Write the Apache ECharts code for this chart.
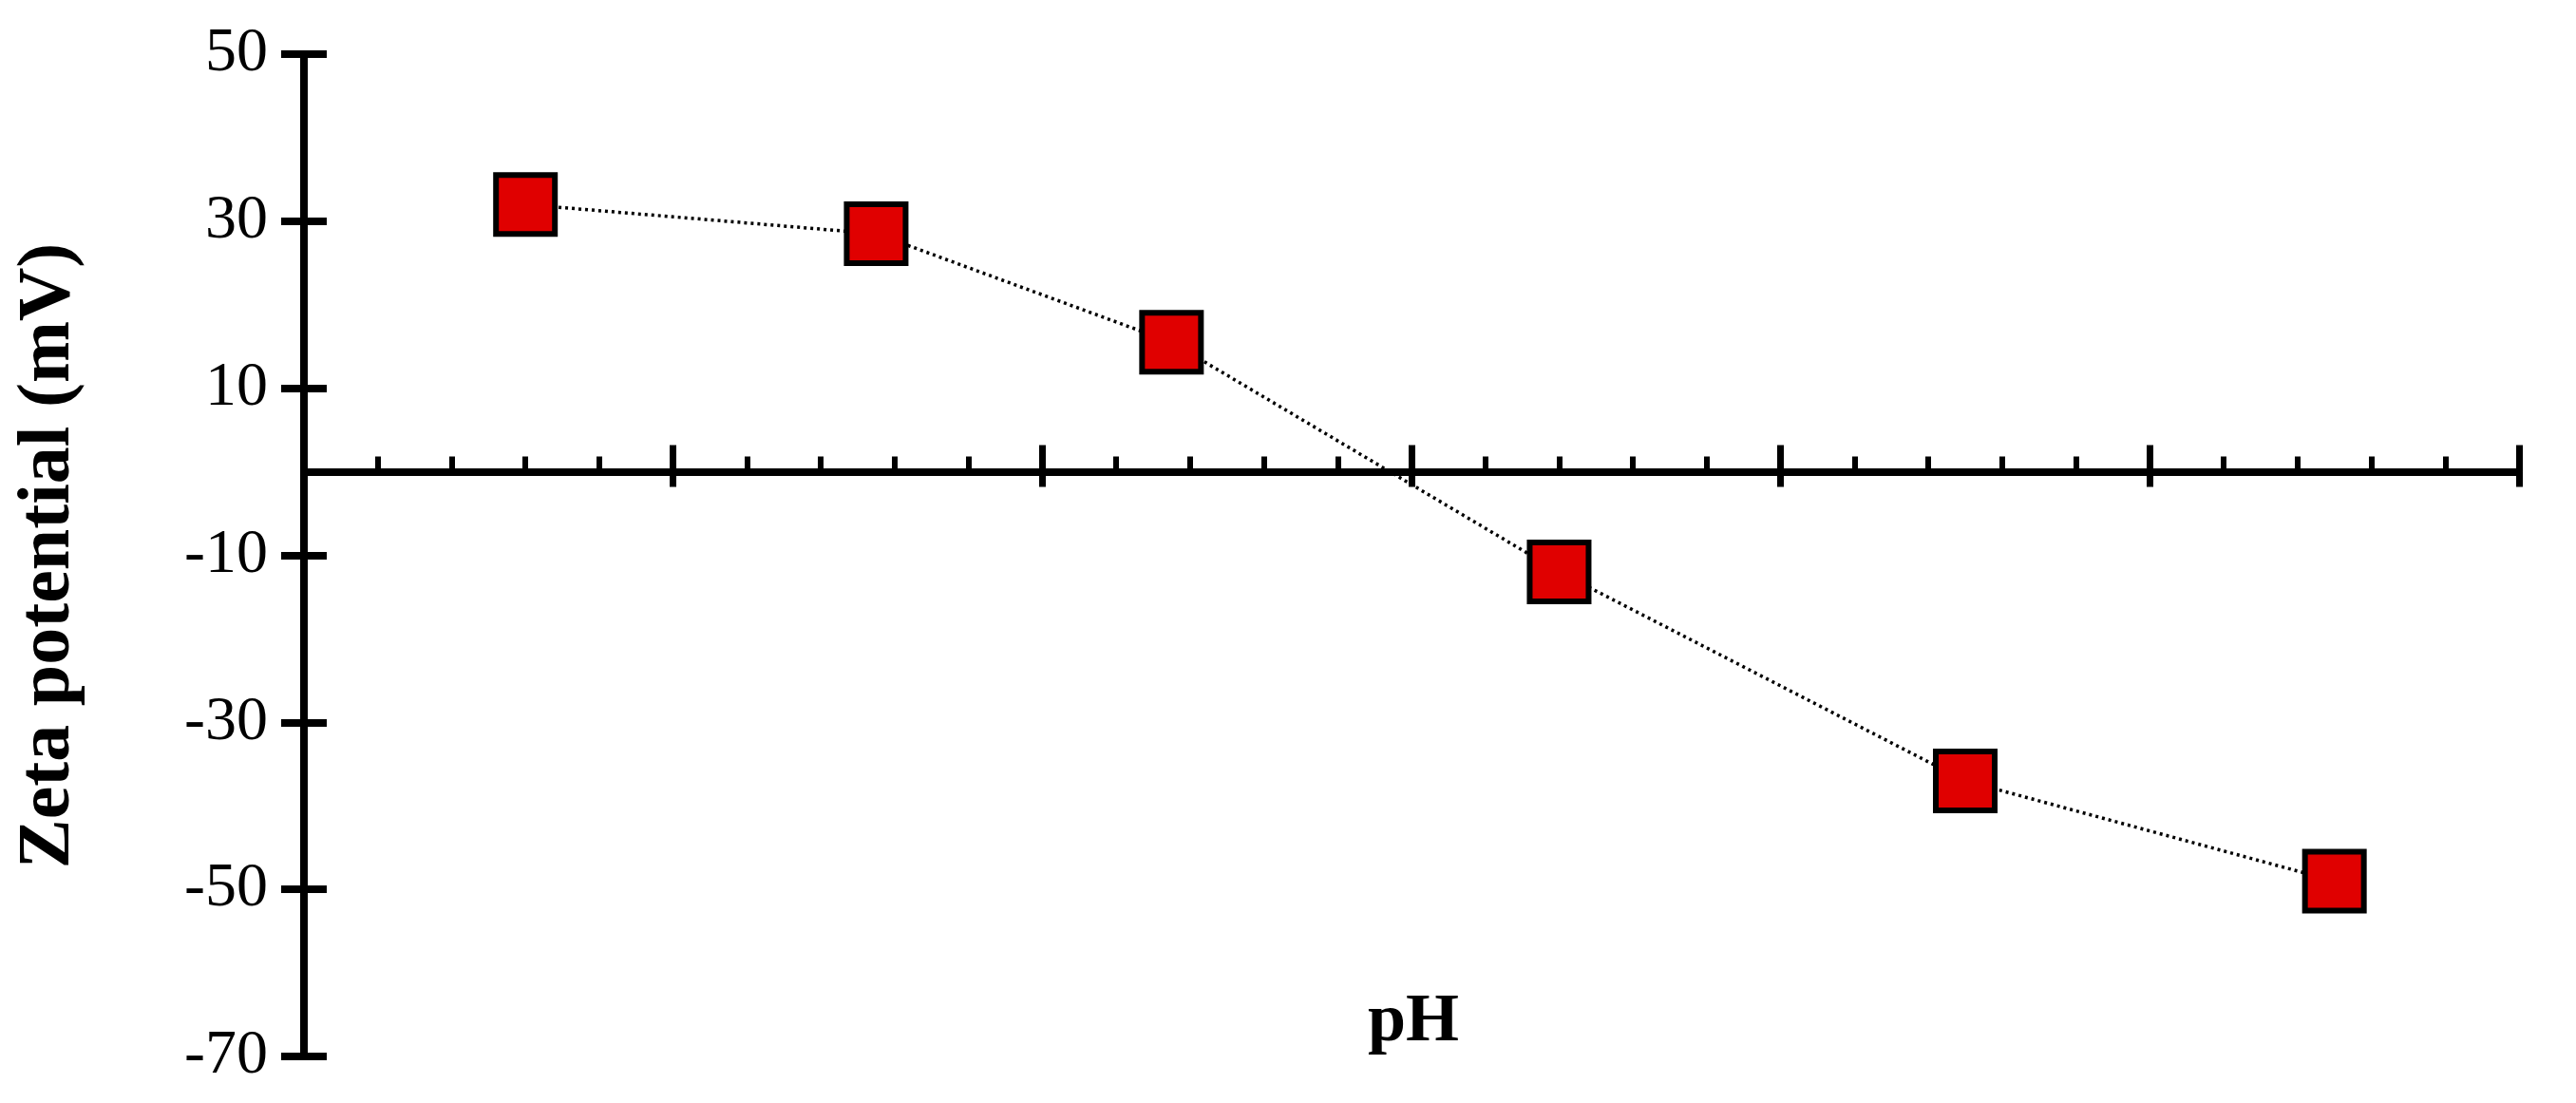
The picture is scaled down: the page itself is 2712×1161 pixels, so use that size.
<!DOCTYPE html><html><head><meta charset="utf-8"><script src="https://cdn.jsdelivr.net/npm/echarts@6/dist/echarts.min.js"></script>
<style>html,body{margin:0;background:#fff}#c{width:2712px;height:1161px}</style></head><body><div id="c"></div><script>
const phValues=[1.2,3.1,4.7,6.8,9.0,11.0];
const zetaValues=[32,28.5,15.5,-12,-37,-49];
const xTitle='pH', yTitle='Zeta potential (mV)';
const font='"Liberation Serif", "DejaVu Serif", serif';
const chart=echarts.init(document.getElementById('c'));
const axLine={lineStyle:{color:'#000',width:8}};
const xBase={type:'value',min:0,max:12,interval:2,splitLine:{show:false}};
const yBase={type:'value',min:-70,max:50,interval:20,splitLine:{show:false}};
chart.setOption({
 animation:false,
 grid:{left:320,right:60,top:57,bottom:49,containLabel:false,outerBoundsMode:'none'},
 xAxis:[
  Object.assign({},xBase,{axisLine:Object.assign({onZero:true},axLine),axisTick:{inside:true,length:28,lineStyle:{width:7,color:'#000'}},
   minorTick:{show:true,splitNumber:5,length:16,lineStyle:{width:6,color:'#000'}},
   axisLabel:{margin:100,fontFamily:font,fontSize:66,color:'#000'}}),
  Object.assign({},xBase,{axisLine:{onZero:true,onZeroAxisIndex:0,show:false},axisTick:{inside:false,length:16,lineStyle:{width:7,color:'#000'}},axisLabel:{show:false},position:'bottom'})
 ],
 yAxis:[
  Object.assign({},yBase,{axisLine:axLine,axisTick:{inside:false,length:24,lineStyle:{width:8,color:'#000'}},
   axisLabel:{margin:38,fontFamily:font,fontSize:66,color:'#000'}}),
  Object.assign({},yBase,{position:'left',axisLine:{show:false},axisTick:{inside:true,length:24,lineStyle:{width:8,color:'#000'}},axisLabel:{show:false}})
 ],
 graphic:[
  {type:'text',left:1440,top:1040,style:{text:xTitle,font:'bold 72px '+font,fill:'#000'}},
  {type:'text',x:52,y:585,rotation:Math.PI/2,style:{text:yTitle,font:'bold 78px '+font,fill:'#000',align:'center',verticalAlign:'middle'}}
 ],
 series:[{type:'line',data:phValues.map((x,i)=>[x,zetaValues[i]]),symbol:'rect',symbolSize:62,
  itemStyle:{color:'#e00000',borderColor:'#000',borderWidth:6},
  lineStyle:{color:'#000',width:3.5,type:[3,4]}}]
});
</script></body></html>
